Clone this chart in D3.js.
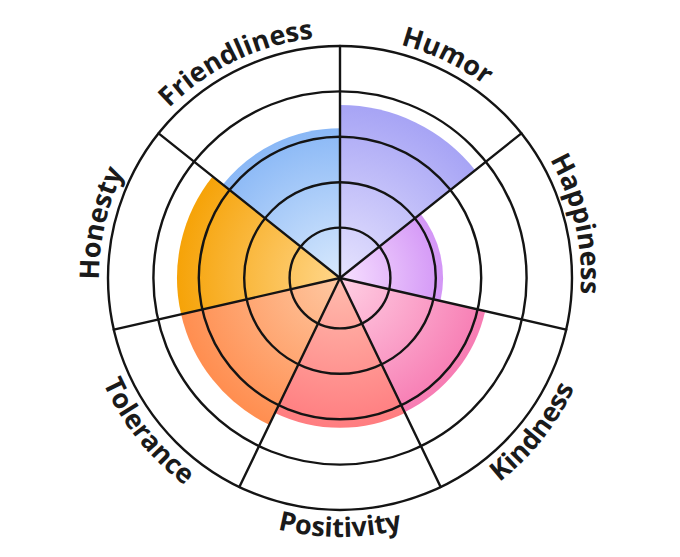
<!DOCTYPE html>
<html>
<head>
<meta charset="utf-8">
<script src="https://cdn.jsdelivr.net/npm/d3@7"></script>
<style>
  html, body { margin: 0; padding: 0; background: #ffffff; }
  svg { display: block; }
</style>
</head>
<body>
<script>
// ---- data ----
const categories = ["Humor", "Happiness", "Kindness", "Positivity", "Tolerance", "Honesty", "Friendliness"];
const values = [3.7, 2.16, 3.17, 3.19, 3.48, 3.48, 3.19];
const ringLevels = [1, 2, 3, 4, 5];

// ---- styles ----
const outerColors = ["#a7a4f5", "#d396f6", "#f77cb3", "#ff7d80", "#ff8e50", "#f6a308", "#8ab8f6"];
const innerColors = ["#e6e3fe", "#f7e0ff", "#ffd0e4", "#ffbcae", "#fec8a2", "#ffd68a", "#d8e9fd"];

const W = 680, H = 557;
const cx = 340, cy = 278;

const svg = d3.select("body").append("svg")
  .attr("width", W).attr("height", H);

const r = d3.scaleLinear().domain([0, 5]).range([5, 232]);
const angle = d3.scaleLinear().domain([0, categories.length]).range([0, 2 * Math.PI]);

const defs = svg.append("defs");
const g = svg.append("g").attr("transform", `translate(${cx},${cy})`);

// gradients
categories.forEach((c, i) => {
  const gr = defs.append("radialGradient")
    .attr("id", "grad" + i)
    .attr("gradientUnits", "userSpaceOnUse")
    .attr("cx", 0).attr("cy", 0).attr("r", r(values[i]));
  gr.append("stop").attr("offset", "0%").attr("stop-color", innerColors[i]);
  gr.append("stop").attr("offset", "100%").attr("stop-color", outerColors[i]);
});

const arc = d3.arc()
  .innerRadius(0)
  .outerRadius((d) => r(d.v))
  .startAngle((d) => angle(d.i))
  .endAngle((d) => angle(d.i + 1));

g.selectAll("path.wedge")
  .data(values.map((v, i) => ({ v, i })))
  .join("path")
  .attr("class", "wedge")
  .attr("d", arc)
  .attr("fill", (d) => `url(#grad${d.i})`);

// rings
g.selectAll("circle.ring")
  .data(ringLevels)
  .join("circle")
  .attr("class", "ring")
  .attr("r", (d) => r(d))
  .attr("fill", "none")
  .attr("stroke", "#141414")
  .attr("stroke-width", 2.4);

// spokes
g.selectAll("line.spoke")
  .data(d3.range(categories.length))
  .join("line")
  .attr("class", "spoke")
  .attr("x1", 0).attr("y1", 0)
  .attr("x2", (i) => r(5) * Math.sin(angle(i)))
  .attr("y2", (i) => -r(5) * Math.cos(angle(i)))
  .attr("stroke", "#141414")
  .attr("stroke-width", 2.4)
  .attr("stroke-linecap", "round");

// curved labels
const pt = (rad, a) => [rad * Math.sin(a), -rad * Math.cos(a)];
categories.forEach((c, i) => {
  const mid = angle(i + 0.5);
  const deg = mid * 180 / Math.PI;
  const ccw = deg > 90 && deg < 270;
  const half = 0.9;
  let d;
  if (!ccw) {
    const R = 241;
    const p0 = pt(R, mid - half), p1 = pt(R, mid + half);
    d = `M${p0[0]},${p0[1]} A${R},${R} 0 0 1 ${p1[0]},${p1[1]}`;
  } else {
    const R = 259;
    const p0 = pt(R, mid + half), p1 = pt(R, mid - half);
    d = `M${p0[0]},${p0[1]} A${R},${R} 0 0 0 ${p1[0]},${p1[1]}`;
  }
  defs.append("path").attr("id", "lp" + i).attr("d", d);
  g.append("text")
    .attr("font-family", "'Open Sans', sans-serif")
    .attr("font-weight", 700)
    .attr("font-size", 27)
    .attr("fill", "#1a1a1a")
    .append("textPath")
    .attr("href", "#lp" + i)
    .attr("startOffset", "50%")
    .attr("text-anchor", "middle")
    .text(c);
});
</script>
</body>
</html>
